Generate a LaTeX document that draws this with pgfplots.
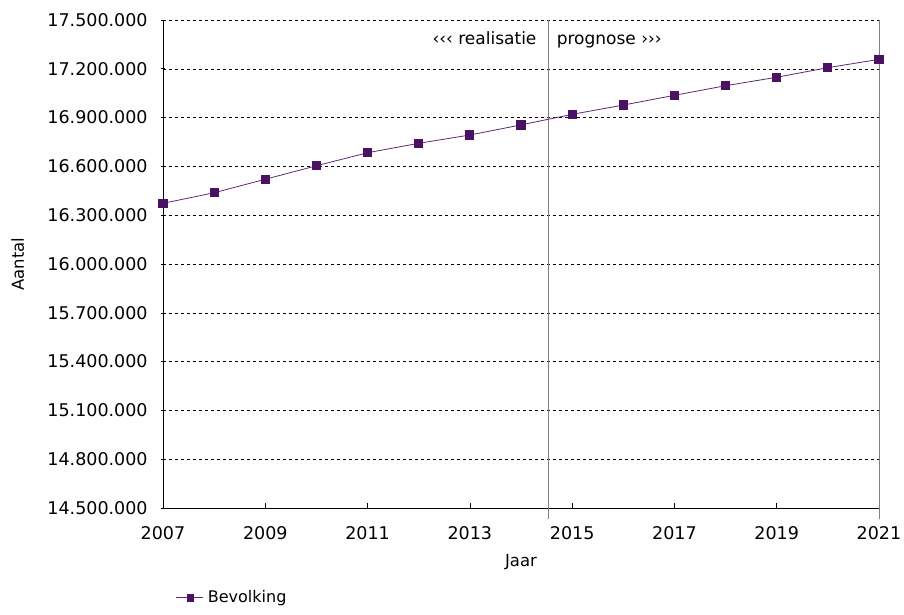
\documentclass[border=0pt]{standalone}
\usepackage{pgfplots}
\pgfplotsset{compat=1.18}
\usepackage{fontspec}
\setmainfont{DejaVu Sans}
\definecolor{paars}{HTML}{4B1263}
\definecolor{paarslijn}{HTML}{5C2A72}
\begin{document}
\fontsize{17}{20}\selectfont
\begin{tikzpicture}
\path[use as bounding box] (0,0) rectangle (904pt,614pt);
\begin{axis}[
  at={(163pt,106pt)}, anchor=south west,
  scale only axis, width=716pt, height=488pt,
  xmin=2007, xmax=2021, ymin=14500000, ymax=17500000,
  axis x line*=bottom, axis y line*=left,
  axis line style={black, line width=0.8pt},
  xtick={2007,2009,...,2021},
  ytick={14500000,14800000,...,17500000},
  x tick label style={/pgf/number format/.cd, 1000 sep={}, /tikz/.cd, yshift=-13pt},
  y tick label style={/pgf/number format/.cd, fixed, precision=0, 1000 sep={.}, /tikz/.cd, xshift=-7pt},
  /pgf/number format/assume math mode=true,
  scaled y ticks=false,
  xtick style={black, line width=0.6pt}, ytick style={black, line width=0.6pt},
  tick align=inside, major tick length=5pt,
  ytick align=center,
  ymajorgrids, grid style={black, dashed, line width=0.5pt},
  xlabel={Jaar}, ylabel={Aantal},
  xlabel style={at={(axis description cs:0.5,-0.11)}, anchor=center},
  ylabel style={at={(axis description cs:-0.203,0.5)}, anchor=center},
  tick label style={font=\fontsize{17.5}{20}\selectfont},
  label style={font=\fontsize{16.5}{19}\selectfont},
  legend style={at={(0.018,-0.184)}, anchor=west, draw=none, fill=none,
    font=\fontsize{16}{19}\selectfont, inner sep=0pt,
    /tikz/every odd column/.append style={column sep=2pt}},
  legend image code/.code={
    \draw[paarslijn, line width=0.8pt] (0pt,0pt) -- (27pt,0pt);
    \fill[paars] (10.5pt,-3.2pt) rectangle (16.5pt,3.2pt);},
  legend cell align=left,
  clip=false,
]
\draw[gray, line width=0.8pt] (axis cs:2021,14430000) -- (axis cs:2021,17500000);
\draw[gray, line width=0.8pt] (axis cs:2014.54,14430000) -- (axis cs:2014.54,17500000);
\node[anchor=base east, inner sep=0pt, font=\fontsize{17}{20}\selectfont] at (axis cs:2014.54,17500000) [xshift=-12pt, yshift=-25pt] {‹‹‹ realisatie};
\node[anchor=base west, inner sep=0pt, font=\fontsize{17}{20}\selectfont] at (axis cs:2014.54,17500000) [xshift=8pt, yshift=-25pt] {prognose ›››};
\addplot[paarslijn, line width=0.8pt, mark=square*, mark size=4.1pt,
  mark options={fill=paars, draw=paars, line width=0pt}] coordinates {
  (2007,16373000) (2008,16438000) (2009,16521000) (2010,16604000)
  (2011,16684000) (2012,16742000) (2013,16793000) (2014,16855000)
  (2015,16920000) (2016,16977000) (2017,17037000) (2018,17096000)
  (2019,17148000) (2020,17207000) (2021,17258000)
};
\addlegendentry{Bevolking}
\end{axis}
\end{tikzpicture}
\end{document}
